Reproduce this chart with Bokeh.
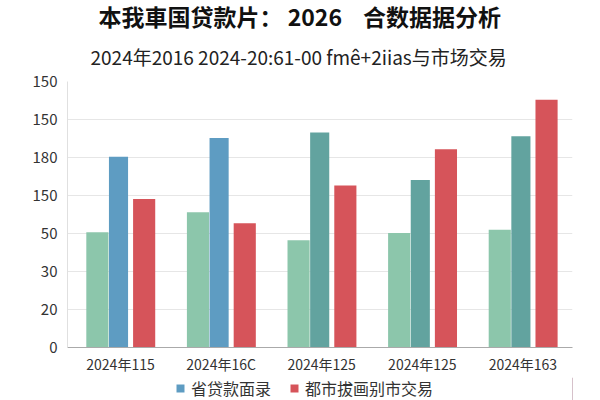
from bokeh.plotting import figure
from bokeh.models import (ColumnDataSource, FixedTicker, Legend, LegendItem,
                          Title, CDSView, IndexFilter)
from bokeh.layouts import column
from bokeh.transform import dodge
from bokeh.embed import file_html
from bokeh.resources import INLINE

# ---- data ----
categories = ["2024年115", "2024年16C", "2024年125", "2024年125", "2024年163"]
y_tick_labels = ["0", "20", "30", "50", "150", "180", "150", "150"]
series_green = [3.03, 3.56, 2.82, 3.01, 3.10]
series_mid = [5.02, 5.51, 5.66, 4.41, 5.56]
series_red = [3.91, 3.27, 4.26, 5.22, 6.52]
legend_mid = "省贷款面录"
legend_red = "都市拔画别市交易"
title_text = "本我車国贷款片： 2026\u00a0\u00a0\u00a0\u00a0合数据据分析"
subtitle_text = "2024年2016 2024-20:61-00 fmê+2iias与市场交易"

FONT = "Noto Sans CJK SC"
GREEN = "#8cc6ab"
BLUE = "#5e9cc2"
TEAL = "#62a39f"
RED = "#d6545a"

idx = list(range(len(categories)))
src = ColumnDataSource(dict(
    x=idx,
    g=series_green,
    m=series_mid,
    r=series_red,
))

p = figure(frame_width=505, frame_height=266, output_backend="svg",
           toolbar_location=None,
           x_range=(-0.527, 4.493), y_range=(0, 7), title_location=None,
           min_border_left=67, min_border_right=28, min_border_top=81,
           min_border_bottom=30)
p.outline_line_color = None
p.background_fill_color = "white"
p.border_fill_color = "white"

# middle series: first two blue, rest teal
view_blue = CDSView(filter=IndexFilter([0, 1]))
view_teal = CDSView(filter=IndexFilter([2, 3, 4]))
r_blue = p.vbar(x=dodge("x", -0.02), top="m", width=0.19, source=src, view=view_blue,
                fill_color=BLUE, line_color=None)
r_teal = p.vbar(x=dodge("x", -0.02), top="m", width=0.19, source=src, view=view_teal,
                fill_color=TEAL, line_color=None)
r_green = p.vbar(x=dodge("x", -0.23), top="g", width=0.22, source=src,
                 fill_color=GREEN, line_color=None)
r_red = p.vbar(x=dodge("x", 0.235), top="r", width=0.22, source=src,
               fill_color=RED, line_color=None)

# axes
p.xaxis.ticker = FixedTicker(ticks=idx)
p.xaxis.major_label_overrides = {i: c for i, c in enumerate(categories)}
p.yaxis.ticker = FixedTicker(ticks=list(range(len(y_tick_labels))))
p.yaxis.major_label_overrides = {i: t for i, t in enumerate(y_tick_labels)}
for ax in (p.xaxis, p.yaxis):
    ax.major_tick_line_color = None
    ax.minor_tick_line_color = None
    ax.major_tick_out = 0
    ax.major_tick_in = 0
    ax.minor_tick_out = 0
    ax.minor_tick_in = 0
    ax.major_label_text_font = FONT
    ax.major_label_text_color = "#333333"
p.xaxis.major_label_text_font_size = "14px"
p.yaxis.major_label_text_font_size = "15px"
p.xaxis.axis_line_color = "#aaaaaa"
p.yaxis.axis_line_color = "#e0e0e0"
p.xaxis.major_label_standoff = 6
p.yaxis.major_label_standoff = 10
p.xgrid.grid_line_color = None
p.ygrid.grid_line_color = "#e6e6e6"

sub = Title(text=subtitle_text, align="left", text_font=FONT,
            text_font_size="19px", text_font_style="normal", text_color="#222222",
            offset=23, standoff=24)
p.add_layout(sub, "above")
main = Title(text=title_text, align="left", text_font=FONT,
             text_font_size="23px", text_font_style="bold", text_color="#111111",
             offset=31, standoff=-8)
p.add_layout(main, "above")

# legend strip below the chart (legend-only renderers sit outside its view)
lg = figure(width=600, height=23, output_backend="svg", toolbar_location=None,
            x_range=(0, 1), y_range=(0, 1), x_axis_location=None,
            y_axis_location=None, min_border=0, title_location=None)
lg.outline_line_color = None
lg.grid.visible = False
lg.background_fill_color = "white"
lg.border_fill_color = "white"
offview = ColumnDataSource(dict(x=[5], top=[1]))
d_blue = lg.vbar(x="x", top="top", width=0.1, source=offview,
                 fill_color=BLUE, line_color=None)
d_red = lg.vbar(x="x", top="top", width=0.1, source=offview,
                fill_color=RED, line_color=None)
legend = Legend(items=[LegendItem(label=legend_mid, renderers=[d_blue]),
                       LegendItem(label=legend_red, renderers=[d_red])],
                orientation="horizontal", location=(108, 0),
                border_line_color=None, background_fill_alpha=0,
                glyph_width=10, glyph_height=10, label_standoff=6, spacing=18,
                padding=0, margin=0,
                label_text_font=FONT, label_text_font_size="16px",
                label_text_color="#333333")
lg.add_layout(legend, "center")

layout = column(p, lg, spacing=0)
open("out.html", "w").write(file_html(layout, INLINE))
